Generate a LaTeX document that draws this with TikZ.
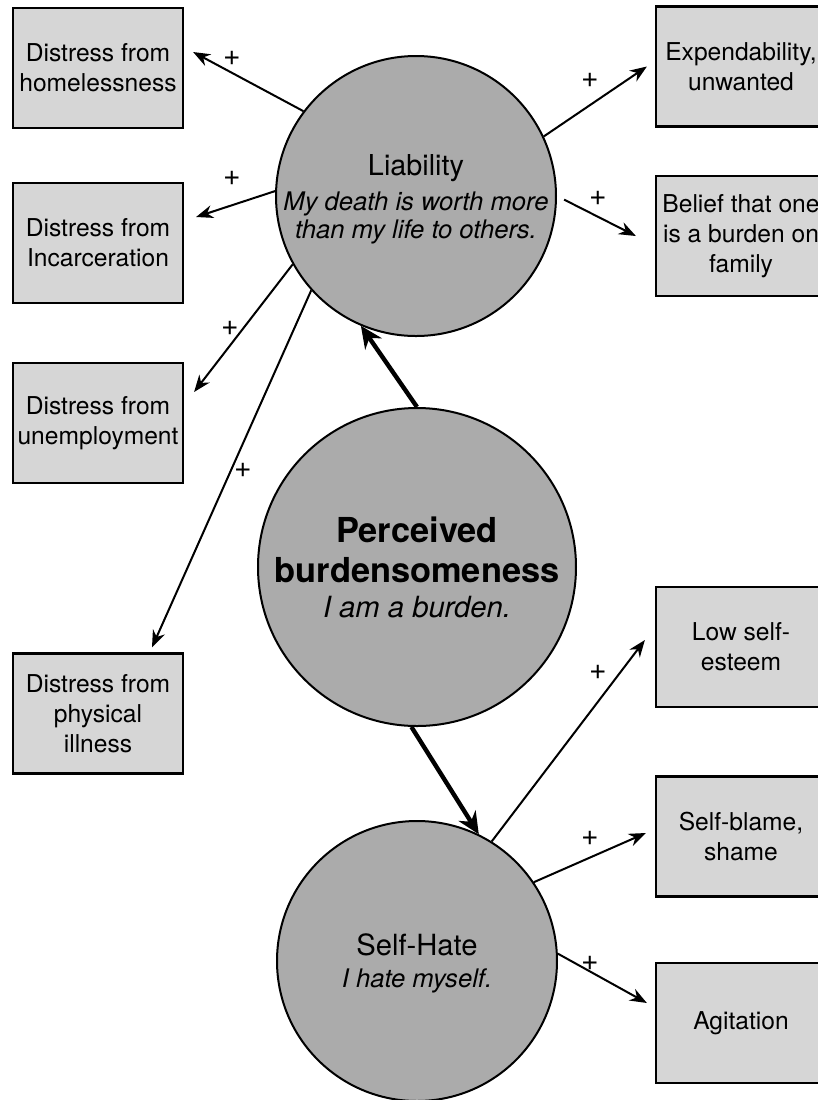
\documentclass[tikz,border=0pt]{standalone}
\usepackage{fontspec}
\setmainfont{TeX Gyre Heros}
\usetikzlibrary{arrows.meta}
\definecolor{boxgray}{gray}{0.84}
\definecolor{circgray}{gray}{0.67}
\tikzset{
	effect/.style={draw, line width=1.1pt, fill=boxgray, minimum width=85pt, minimum height=60pt, inner sep=0pt, align=center, font=\fontsize{12.3}{15}\selectfont},
	construct/.style={circle, draw, line width=1pt, fill=circgray, inner sep=0pt, align=center},
	link/.style={-{Stealth[length=8.5pt,width=6.5pt]}, line width=1pt},
	mainlink/.style={-{Stealth[length=11pt,width=10pt]}, line width=2.2pt},
	plussign/.style={inner sep=0pt, font=\fontsize{15}{15}\selectfont}
}

\begin{document}
\begin{tikzpicture}[x=0.5pt, y=-0.5pt]
			\useasboundingbox (0,0) rectangle (818,1100);
			% the three constructs
			\node[construct, minimum size=140pt, text depth=-4pt, font=\fontsize{12.8}{14}\selectfont] (lia) at (416,196)
				{{\fontsize{14.4}{15}\selectfont Liability}\\[3.5pt] \itshape My death is worth more\\ \itshape than my life to others.};
			\node[construct, minimum size=159pt, font=\fontsize{14.6}{17.5}\selectfont] (pb) at (417,567)
				{{\bfseries\fontsize{17.2}{20}\selectfont Perceived}\\[2.5pt] {\bfseries\fontsize{17.2}{20}\selectfont burdensomeness}\\ \itshape I am a burden.};
			\node[construct, minimum size=140pt, text depth=-3.3pt, font=\fontsize{12.8}{16}\selectfont] (sh) at (417,961)
				{{\fontsize{14.6}{16}\selectfont Self-Hate}\\ \itshape I hate myself.};
			% left column
			\node[effect] (home) at (98,68) {Distress from\\homelessness};
			\node[effect] (incar) at (98,243) {Distress from\\Incarceration};
			\node[effect] (unemp) at (98,423) {Distress from\\unemployment};
			\node[effect] (ill) at (98,713.5) {Distress from\\physical\\illness};
			% right column
			\node[effect] (exp) at (741,66.5) {Expendability,\\unwanted};
			\node[effect] (bel) at (741,236) {Belief that one\\is a burden on\\family};
			\node[effect] (low) at (741,647) {Low self-\\esteem};
			\node[effect] (blame) at (741,836.5) {Self-blame,\\shame};
			\node[effect] (agit) at (741,1023) {Agitation};
			% main paths
			\draw[mainlink] (pb.north) -- (lia.247);
			\draw[mainlink] (pb.268) -- (sh.64);
			% liability
			\draw[link] (lia.143) -- ([xshift=4.5pt,yshift=8pt]home.east);
			\draw[link] (lia.178) -- ([xshift=6pt,yshift=13pt]incar.east);
			\draw[link] (lia.209) -- ([xshift=5pt,yshift=15.5pt]unemp.east);
			\draw[link] (lia.222) -- ([xshift=27pt,yshift=2.5pt]ill.north);
			\draw[link] (lia.25) -- ([xshift=-4pt]exp.west);
			\draw[link, shorten <=4pt] (lia.0) -- ([xshift=-9.5pt]bel.west);
			% self-hate
			\draw[link] (sh.58) -- ([xshift=-5pt,yshift=3.5pt]low.west);
			\draw[link] (sh.34) -- ([xshift=-4.5pt,yshift=1.75pt]blame.west);
			\draw[link] (sh.3) -- ([xshift=-4pt,yshift=10pt]agit.west);
			% signs
			\node[plussign] (p1) at (232,58) {+};
			\node[plussign] (p2) at (232,178) {+};
			\node[plussign] (p3) at (230,328) {+};
			\node[plussign] (p4) at (243,470) {+};
			\node[plussign] (p5) at (590,80) {+};
			\node[plussign] (p6) at (598,198) {+};
			\node[plussign] (p7) at (598,672) {+};
			\node[plussign] (p8) at (590,838) {+};
			\node[plussign] (p9) at (590,963) {+};
\end{tikzpicture}
\end{document}
